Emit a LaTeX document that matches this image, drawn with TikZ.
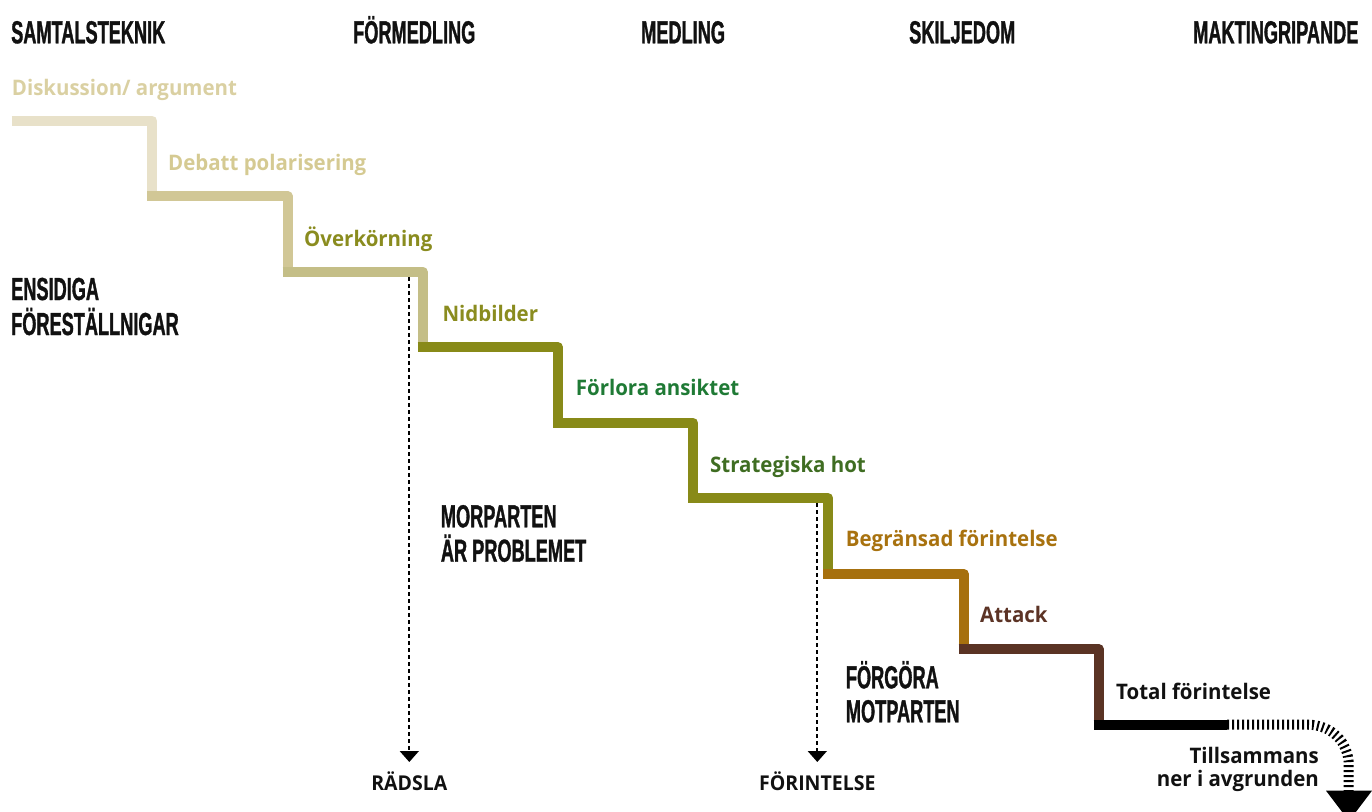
\documentclass[tikz,border=0pt]{standalone}
\usepackage{fontspec}
\usetikzlibrary{arrows.meta}
\newfontfamily\headfont{Liberation Sans}[FakeStretch=0.57,FakeBold=1]
\newfontfamily\labfont{Open Sans}[FakeStretch=0.955]
\definecolor{sA}{HTML}{E8E1C9}
\definecolor{sB}{HTML}{D1C796}
\definecolor{sC}{HTML}{C4BE87}
\definecolor{sD}{HTML}{888A18}
\definecolor{sE}{HTML}{A6700E}
\definecolor{sF}{HTML}{5A3324}
\definecolor{tA}{HTML}{DAD0A2}
\definecolor{tB}{HTML}{D5CA92}
\definecolor{tC}{HTML}{8A8C1F}
\definecolor{tD}{HTML}{1F7A35}
\definecolor{tE}{HTML}{3F6D22}
\definecolor{tF}{HTML}{A8720F}
\definecolor{tG}{HTML}{5C3325}
\definecolor{ink}{HTML}{111111}
\tikzset{
  stair/.style={line width=10bp, line cap=butt, line join=round},
  hatch/.style={line width=10bp, dash pattern=on 2bp off 3bp, line cap=butt},
  dasharrow/.style={line width=1.8bp, dash pattern=on 4bp off 3bp, -{Triangle[width=19bp,length=11bp]}},
  head/.style={inner sep=0, anchor=base west, text=ink, font=\headfont\bfseries\fontsize{32}{36}\selectfont},
  lab/.style={inner sep=0, anchor=base west, font=\labfont\bfseries\fontsize{21.5}{26}\selectfont},
  endlab/.style={inner sep=0, anchor=base, text=ink, font=\labfont\bfseries\fontsize{20.5}{24}\selectfont}
}
\begin{document}
\begin{tikzpicture}[x=1bp, y=-1bp]
\useasboundingbox (0,0) rectangle (1372,811);
% top headings
\node[head] (h1) at (11,43.3) {SAMTALSTEKNIK};
\node[head] (h2) at (353,43.3) {FÖRMEDLING};
\node[head] (h3) at (641,43.3) {MEDLING};
\node[head] (h4) at (909,43.3) {SKILJEDOM};
\node[head] (h5) at (1193,43.3) {MAKTINGRIPANDE};
% side headings
\node[head] (e1) at (11,300) {ENSIDIGA};
\node[head] (e2) at (11,335) {FÖRESTÄLLNIGAR};
\node[head] (m1) at (440.7,527.3) {MORPARTEN};
\node[head] (m2) at (440.7,561.7) {ÄR PROBLEMET};
\node[head] (f1) at (845.7,688.3) {FÖRGÖRA};
\node[head] (f2) at (845.7,722.3) {MOTPARTEN};
% stairs
\draw[stair, sA] (11.7,120.7) -- (152.3,120.7) -- (152.3,191.2);
\draw[stair, sB] (147.3,196.2) -- (287.5,196.2) -- (287.5,266.7);
\draw[stair, sC] (282.5,271.7) -- (422.7,271.7) -- (422.7,342.2);
\draw[stair, sD] (417.7,347.2) -- (557.9,347.2) -- (557.9,417.7);
\draw[stair, sD] (552.9,422.7) -- (693.1,422.7) -- (693.1,493.2);
\draw[stair, sD] (688.1,498.2) -- (828.3,498.2) -- (828.3,568.7);
\draw[stair, sE] (823.3,573.7) -- (963.5,573.7) -- (963.5,644.2);
\draw[stair, sF] (958.5,649.2) -- (1098.7,649.2) -- (1098.7,719.7);
\coordinate (b0) at (1093.7,724.7);
\coordinate (b1) at (1227,724.7);
\draw[stair, black] (b0) -- (b1);
\coordinate (b2) at (1348.7,791);
\draw[hatch, black] (b1) -- (1308,724.7) .. controls (1331,724.7) and (1348.7,742) .. (1348.7,765) -- (b2);
\fill[black] (1326,790.7) -- (1372,790.7) -- (1349,821) -- cycle;
% step labels
\node[lab, text=tA] (l1) at (11.7,95) {Diskussion/ argument};
\node[lab, text=tB] (l2) at (168,170) {Debatt polarisering};
\node[lab, text=tC] (l3) at (304,246) {Överkörning};
\node[lab, text=tC] (l4) at (442.3,321) {Nidbilder};
\node[lab, text=tD] (l5) at (575.7,395.7) {Förlora ansiktet};
\node[lab, text=tE] (l6) at (710,472.3) {Strategiska hot};
\node[lab, text=tF] (l7) at (845.7,546.7) {Begränsad förintelse};
\node[lab, text=tG] (l8) at (980,622.7) {Attack};
\node[lab, text=ink] (l9) at (1116,699.3) {Total förintelse};
\node[lab, text=ink, anchor=base east] (t1) at (1319,763.3) {Tillsammans};
\node[lab, text=ink, anchor=base east] (t2) at (1319,786.7) {ner i avgrunden};
% bottom labels and dashed arrows
\node[endlab] (rad) at (409.3,790) {RÄDSLA};
\node[endlab] (fri) at (817.3,790) {FÖRINTELSE};
\coordinate (d1s) at (409.3,277);
\coordinate (d1e) at (409.3,762);
\coordinate (d2s) at (817.3,503.3);
\coordinate (d2e) at (817.3,762);
\draw[dasharrow] (d1s) -- (d1e);
\draw[dasharrow] (d2s) -- (d2e);
\end{tikzpicture}
\end{document}
